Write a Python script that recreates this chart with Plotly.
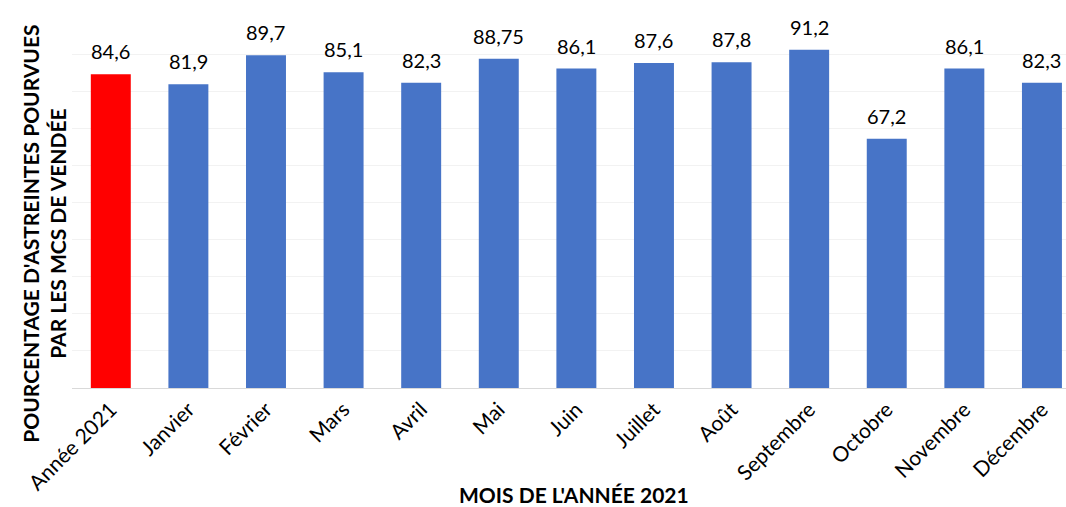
import plotly.graph_objects as go

categories = ["Année 2021", "Janvier", "Février", "Mars", "Avril", "Mai", "Juin",
              "Juillet", "Août", "Septembre", "Octobre", "Novembre", "Décembre"]
values = [84.6, 81.9, 89.7, 85.1, 82.3, 88.75, 86.1, 87.6, 87.8, 91.2, 67.2, 86.1, 82.3]
labels = ["84,6", "81,9", "89,7", "85,1", "82,3", "88,75", "86,1", "87,6", "87,8",
          "91,2", "67,2", "86,1", "82,3"]
colors = ["#FF0000"] + ["#4774C7"] * 12

fig = go.Figure(go.Bar(
    x=categories, y=values,
    marker=dict(color=colors, line=dict(width=0)),
    cliponaxis=False,
))

value_annotations = [
    dict(x=c, y=v, text=t, xref="x", yref="y", yanchor="bottom", xanchor="center",
         yshift=9, showarrow=False,
         font=dict(family="Lato", size=20, color="#000000"))
    for c, v, t in zip(categories, values, labels)
]

fig.update_layout(
    width=1066, height=507,
    margin=dict(l=72, r=0, t=17, b=119),
    paper_bgcolor="white", plot_bgcolor="white",
    bargap=0.485, showlegend=False,
    font=dict(family="Lato", color="#000000"),
    xaxis=dict(
        range=[-0.5, 12.31], tickangle=-45, automargin=False,
        tickfont=dict(family="Lato", size=21, color="#000000"),
        showline=True, linecolor="#D9D9D9", linewidth=1,
        ticks="", showgrid=False,
    ),
    yaxis=dict(
        range=[0, 100], dtick=10, showticklabels=False, automargin=False,
        showgrid=True, gridcolor="#F2F2F2", gridwidth=1,
        zeroline=False, ticks="",
    ),
    annotations=value_annotations + [
        dict(text="<b>POURCENTAGE D'ASTREINTES POURVUES<br>PAR LES MCS DE VENDÉE</b>",
             xref="paper", yref="paper", x=-0.0285, y=0.415,
             xanchor="center", yanchor="middle", textangle=-90, showarrow=False,
             font=dict(family="Lato", size=21, color="#000000")),
        dict(text="<b>MOIS DE L'ANNÉE 2021</b>",
             xref="paper", yref="paper", x=0.505, y=-0.288,
             xanchor="center", yanchor="middle", showarrow=False,
             font=dict(family="Lato", size=21, color="#000000")),
    ],
)

fig.write_html("out.html", config={"displayModeBar": False},
               post_script="document.body.style.margin='0px';document.body.style.overflow='hidden';")
